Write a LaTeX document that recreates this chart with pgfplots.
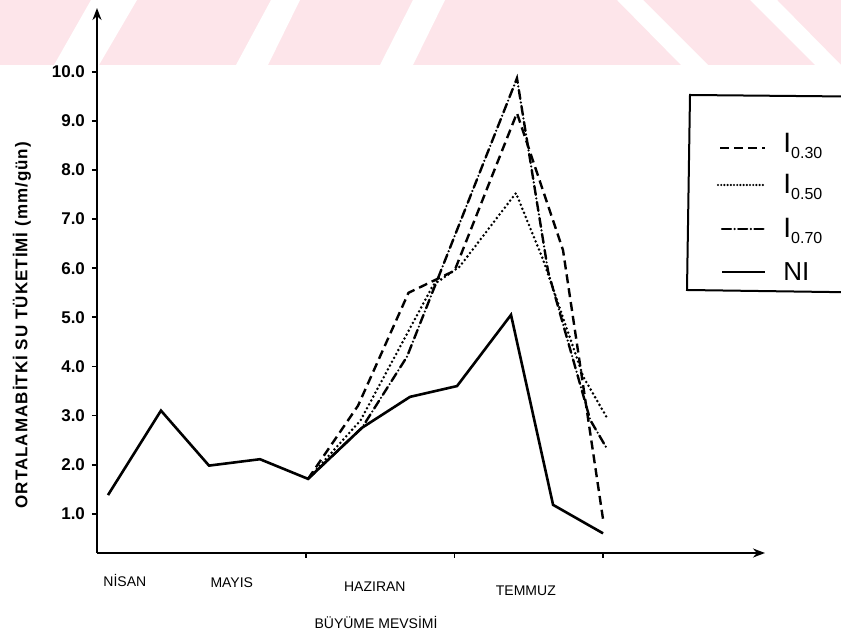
\documentclass[border=0pt]{standalone}
\usepackage{fontspec}
\setmainfont{Liberation Sans}
\usepackage{pgfplots}
\pgfplotsset{compat=1.18}
\usetikzlibrary{arrows.meta}
\definecolor{wm}{RGB}{253,229,234}

\begin{document}
\begin{tikzpicture}
\useasboundingbox (0,0) rectangle (420.5pt,318.5pt);
% watermark band
\begin{scope}[x=0.5pt,y=-0.5pt,yshift=318.5pt]
\fill[wm] (0,0) rectangle (841,65);
\fill[white] (91,0) -- (137,0) -- (99,65) -- (54,65) -- cycle;
\fill[white] (271,0) -- (300,0) -- (268,65) -- (236,65) -- cycle;
\fill[white] (413,0) -- (445,0) -- (413,65) -- (380,65) -- cycle;
\fill[white] (617,0) -- (643,0) -- (708,65) -- (681,65) -- cycle;
\fill[white] (750,0) -- (777,0) -- (841,65) -- (815,65) -- cycle;
\end{scope}

\begin{axis}[
  at={(48.5pt,42pt)}, anchor=south west,
  scale only axis, width=334pt, height=272.5pt,
  xmin=-0.222, xmax=13.27, ymin=0.2, ymax=11.3,
  axis lines=left,
  axis line style={line width=1.4pt, -{Stealth[length=6pt,width=4.5pt]}},
  tick align=outside,
  major tick length=2.5pt,
  tick style={line width=0.9pt, black},
  ytick={1,2,...,10},
  xtick={4,7,10}, xticklabels={},
  yticklabel style={font=\fontsize{8.5}{9}\selectfont\bfseries,
    /pgf/number format/.cd, fixed, fixed zerofill, precision=1, assume math mode=true},
  ylabel={ORTALAMABİTKİ SU TÜKETİMİ (mm/gün)},
  every axis y label/.style={at={(axis description cs:-0.1123,0.418)}, rotate=90, anchor=center,
    font=\fontsize{8.5}{9}\selectfont\bfseries\addfontfeature{LetterSpace=6}},
  xlabel={BÜYÜME MEVSİMİ},
  every axis x label/.style={at={(axis description cs:0.4177,-0.1266)}, anchor=center,
    font=\fontsize{7}{8}\selectfont},
  clip=false,
]
% NI
\addplot[black, line width=1.3pt] coordinates {
 (0,1.38) (1.07,3.10) (2.04,1.98) (3.07,2.11) (4.04,1.71) (5.13,2.75)
 (6.1,3.38) (7.05,3.6) (8.14,5.05) (8.99,1.18) (10.0,0.60)};
% I 0.30 dashed
\addplot[black, line width=1.2pt, dash pattern=on 4.5pt off 2.5pt] coordinates {
 (4.04,1.71) (5.05,3.2) (6.07,5.5) (7.0,5.95) (8.26,9.16) (9.19,6.37) (10.0,0.88)};
% I 0.50 dotted
\addplot[black, line width=1.4pt, line cap=round, dash pattern=on 0pt off 2.2pt] coordinates {
 (4.04,1.71) (5.1,2.9) (6.57,5.66) (7.1,6.03) (8.24,7.53) (8.79,6.17) (9.6,3.79) (10.08,2.95)};
% I 0.70 dash-dot
\addplot[black, line width=1.2pt, line cap=round, dash pattern=on 4.5pt off 1.8pt on 0pt off 1.8pt] coordinates {
 (4.04,1.71) (5.13,2.75) (6.04,4.2) (8.26,9.87) (8.89,5.93) (9.74,2.91) (10.08,2.32)};
% month names
\node[font=\fontsize{7}{8}\selectfont] at (axis cs:0.34,-0.35) {NİSAN};
\node[font=\fontsize{7}{8}\selectfont] at (axis cs:2.5,-0.41) {MAYIS};
\node[font=\fontsize{7}{8}\selectfont] at (axis cs:5.39,-0.49) {HAZIRAN};
\node[font=\fontsize{7}{8}\selectfont] at (axis cs:8.44,-0.57) {TEMMUZ};
\end{axis}

% legend
\begin{scope}[x=0.5pt,y=-0.5pt,yshift=318.5pt]
\draw[line width=1pt] (900,97) -- (690,95) -- (687,290) -- (900,293);
\draw[line width=1.2pt, dash pattern=on 4.5pt off 2.5pt] (720,148) -- (765,148);
\draw[line width=1.2pt, line cap=round, dash pattern=on 0pt off 1.6pt] (718,185) -- (765,185);
\draw[line width=1.2pt, line cap=round, dash pattern=on 4.5pt off 1.8pt on 0pt off 1.8pt] (722,229) -- (765,229);
\draw[line width=1.3pt] (722,272) -- (765,272);
\node[anchor=west, inner sep=0pt] at (783,146) {\fontsize{14}{14}\selectfont I\fontsize{8}{8}\selectfont\raisebox{-3pt}{0.30}};
\node[anchor=west, inner sep=0pt] at (783,187) {\fontsize{14}{14}\selectfont I\fontsize{8}{8}\selectfont\raisebox{-3pt}{0.50}};
\node[anchor=west, inner sep=0pt] at (783,231) {\fontsize{14}{14}\selectfont I\fontsize{8}{8}\selectfont\raisebox{-3pt}{0.70}};
\node[anchor=west, inner sep=0pt] at (783,272) {\fontsize{13}{13}\selectfont NI};
\end{scope}
\end{tikzpicture}
\end{document}
